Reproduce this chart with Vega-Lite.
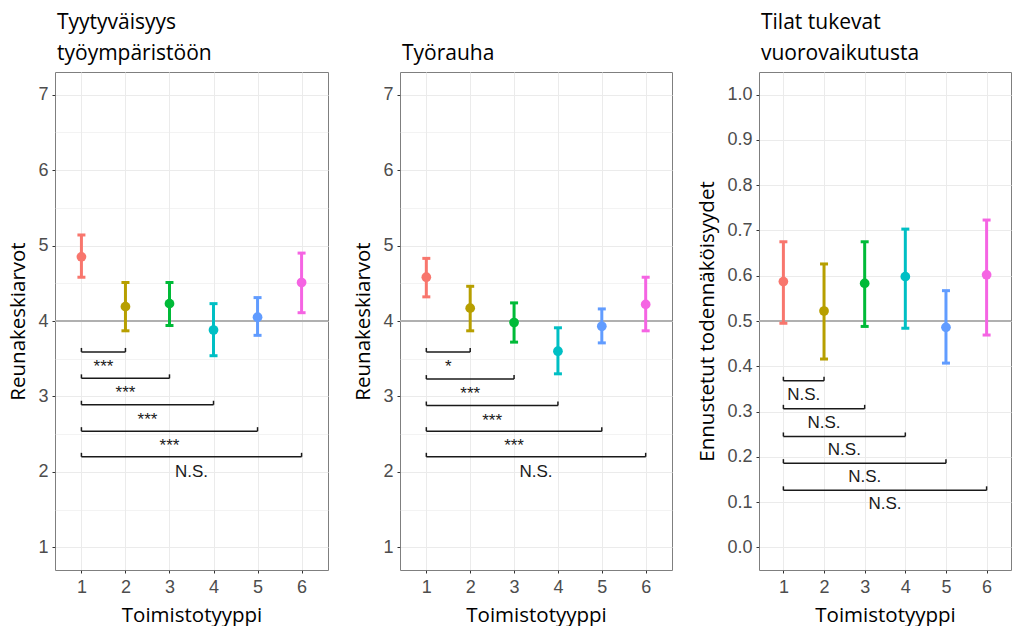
{
  "$schema": "https://vega.github.io/schema/vega-lite/v6.json",
  "background": "white",
  "padding": {"left": 8, "top": 11, "right": 0, "bottom": 0},
  "spacing": 23,
  "resolve": {"scale": {"x": "independent", "y": "independent", "color": "shared"}},
  "config": {
    "view": {"stroke": "#7F7F7F", "strokeWidth": 1},
    "axis": {
      "domain": false,
      "labelFont": "Arial",
      "labelFontSize": 18,
      "labelColor": "#4D4D4D",
      "tickColor": "#333333",
      "tickSize": 3,
      "labelPadding": 4,
      "titleFont": "Open Sans",
      "titleFontSize": 20.5,
      "titleFontWeight": "normal",
      "titleColor": "#000000",
      "gridColor": "#EBEBEB",
      "gridWidth": 1
    },
    "axisX": {"titlePadding": 9, "labelPadding": 5},
    "axisY": {"titlePadding": 9},
    "title": {
      "anchor": "start",
      "frame": "group",
      "font": "Open Sans",
      "fontSize": 21,
      "fontWeight": "normal",
      "color": "#000000",
      "offset": 8,
      "lineHeight": 31,
      "dx": 2
    },
    "text": {"font": "Arial", "fontSize": 17, "color": "#1A1A1A"}
  },
  "datasets": {
    "p1": [
      {"typ": 1, "m": 4.85, "lo": 4.58, "hi": 5.14},
      {"typ": 2, "m": 4.19, "lo": 3.87, "hi": 4.51},
      {"typ": 3, "m": 4.23, "lo": 3.94, "hi": 4.51},
      {"typ": 4, "m": 3.88, "lo": 3.54, "hi": 4.23},
      {"typ": 5, "m": 4.05, "lo": 3.81, "hi": 4.31},
      {"typ": 6, "m": 4.51, "lo": 4.11, "hi": 4.90}
    ],
    "b1": [
      {"x1": 1, "x2": 2, "mid": 1.5, "y": 3.59, "label": "***"},
      {"x1": 1, "x2": 3, "mid": 2.0, "y": 3.24, "label": "***"},
      {"x1": 1, "x2": 4, "mid": 2.5, "y": 2.89, "label": "***"},
      {"x1": 1, "x2": 5, "mid": 3.0, "y": 2.54, "label": "***"},
      {"x1": 1, "x2": 6, "mid": 3.5, "y": 2.20, "label": "N.S."}
    ],
    "p2": [
      {"typ": 1, "m": 4.58, "lo": 4.32, "hi": 4.83},
      {"typ": 2, "m": 4.17, "lo": 3.87, "hi": 4.46},
      {"typ": 3, "m": 3.98, "lo": 3.72, "hi": 4.24},
      {"typ": 4, "m": 3.60, "lo": 3.30, "hi": 3.91},
      {"typ": 5, "m": 3.93, "lo": 3.71, "hi": 4.16},
      {"typ": 6, "m": 4.22, "lo": 3.87, "hi": 4.58}
    ],
    "b2": [
      {"x1": 1, "x2": 2, "mid": 1.5, "y": 3.59, "label": "*"},
      {"x1": 1, "x2": 3, "mid": 2.0, "y": 3.23, "label": "***"},
      {"x1": 1, "x2": 4, "mid": 2.5, "y": 2.88, "label": "***"},
      {"x1": 1, "x2": 5, "mid": 3.0, "y": 2.54, "label": "***"},
      {"x1": 1, "x2": 6, "mid": 3.5, "y": 2.20, "label": "N.S."}
    ],
    "p3": [
      {"typ": 1, "m": 0.587, "lo": 0.495, "hi": 0.675},
      {"typ": 2, "m": 0.522, "lo": 0.416, "hi": 0.626},
      {"typ": 3, "m": 0.583, "lo": 0.488, "hi": 0.675},
      {"typ": 4, "m": 0.598, "lo": 0.484, "hi": 0.703},
      {"typ": 5, "m": 0.486, "lo": 0.407, "hi": 0.567},
      {"typ": 6, "m": 0.602, "lo": 0.469, "hi": 0.723}
    ],
    "b3": [
      {"x1": 1, "x2": 2, "mid": 1.5, "y": 0.368, "label": "N.S."},
      {"x1": 1, "x2": 3, "mid": 2.0, "y": 0.306, "label": "N.S."},
      {"x1": 1, "x2": 4, "mid": 2.5, "y": 0.245, "label": "N.S."},
      {"x1": 1, "x2": 5, "mid": 3.0, "y": 0.186, "label": "N.S."},
      {"x1": 1, "x2": 6, "mid": 3.5, "y": 0.126, "label": "N.S."}
    ]
  },
  "hconcat": [
    {
      "width": 273,
      "height": 498,
      "title": {"text": ["Tyytyväisyys", "työympäristöön"]},
      "layer": [
        {
          "data": {"values": [{"ref": 4}]},
          "mark": {"type": "rule", "color": "#B0B0B0", "strokeWidth": 2},
          "encoding": {
            "y": {"field": "ref", "type": "quantitative", "scale": {"domain": [0.7, 7.3], "nice": false, "zero": false},
              "axis": {"title": "Reunakeskiarvot", "values": [1, 1.5, 2, 2.5, 3, 3.5, 4, 4.5, 5, 5.5, 6, 6.5, 7],
                "format": ".0f",
                "labelExpr": "datum.value % 1 === 0 ? datum.label : ''",
                "gridWidth": {"condition": {"test": "datum.value % 1 !== 0", "value": 0.6}, "value": 1},
                "tickOpacity": {"condition": {"test": "datum.value % 1 !== 0", "value": 0}, "value": 1}}}
          }
        },
        {
          "data": {"name": "p1"},
          "mark": {"type": "rule", "strokeWidth": 3},
          "encoding": {
            "x": {"field": "typ", "type": "quantitative", "scale": {"domain": [0.4, 6.6], "nice": false, "zero": false},
              "axis": {"title": "Toimistotyyppi", "values": [1, 2, 3, 4, 5, 6], "format": "d"}},
            "y": {"field": "lo", "type": "quantitative"},
            "y2": {"field": "hi"},
            "color": {"field": "typ", "type": "nominal", "legend": null,
              "scale": {"domain": [1, 2, 3, 4, 5, 6], "range": ["#F8766D", "#B79F00", "#00BA38", "#00BFC4", "#619CFF", "#F564E3"]}}
          }
        },
        {
          "data": {"name": "p1"},
          "mark": {"type": "tick", "orient": "horizontal", "size": 8, "thickness": 3, "opacity": 1},
          "encoding": {
            "x": {"field": "typ", "type": "quantitative"},
            "y": {"field": "lo", "type": "quantitative"},
            "color": {"field": "typ", "type": "nominal", "legend": null}
          }
        },
        {
          "data": {"name": "p1"},
          "mark": {"type": "tick", "orient": "horizontal", "size": 8, "thickness": 3, "opacity": 1},
          "encoding": {
            "x": {"field": "typ", "type": "quantitative"},
            "y": {"field": "hi", "type": "quantitative"},
            "color": {"field": "typ", "type": "nominal", "legend": null}
          }
        },
        {
          "data": {"name": "p1"},
          "mark": {"type": "circle", "size": 95, "opacity": 1},
          "encoding": {
            "x": {"field": "typ", "type": "quantitative"},
            "y": {"field": "m", "type": "quantitative"},
            "color": {"field": "typ", "type": "nominal", "legend": null}
          }
        },
        {
          "data": {"name": "b1"},
          "mark": {"type": "rule", "color": "#1A1A1A", "strokeWidth": 1.5},
          "encoding": {
            "x": {"field": "x1", "type": "quantitative"},
            "x2": {"field": "x2"},
            "y": {"field": "y", "type": "quantitative"}
          }
        },
        {
          "data": {"name": "b1"},
          "mark": {"type": "tick", "orient": "vertical", "size": 4, "thickness": 1.5, "yOffset": -2, "color": "#1A1A1A", "opacity": 1},
          "encoding": {
            "x": {"field": "x1", "type": "quantitative"},
            "y": {"field": "y", "type": "quantitative"}
          }
        },
        {
          "data": {"name": "b1"},
          "mark": {"type": "tick", "orient": "vertical", "size": 4, "thickness": 1.5, "yOffset": -2, "color": "#1A1A1A", "opacity": 1},
          "encoding": {
            "x": {"field": "x2", "type": "quantitative"},
            "y": {"field": "y", "type": "quantitative"}
          }
        },
        {
          "data": {"name": "b1"},
          "mark": {"type": "text", "baseline": "alphabetic", "dy": 20},
          "encoding": {
            "x": {"field": "mid", "type": "quantitative"},
            "y": {"field": "y", "type": "quantitative"},
            "text": {"field": "label"}
          }
        }
      ]
    },
    {
      "width": 272,
      "height": 498,
      "title": {"text": ["", "Työrauha"]},
      "layer": [
        {
          "data": {"values": [{"ref": 4}]},
          "mark": {"type": "rule", "color": "#B0B0B0", "strokeWidth": 2},
          "encoding": {
            "y": {"field": "ref", "type": "quantitative", "scale": {"domain": [0.7, 7.3], "nice": false, "zero": false},
              "axis": {"title": "Reunakeskiarvot", "values": [1, 1.5, 2, 2.5, 3, 3.5, 4, 4.5, 5, 5.5, 6, 6.5, 7],
                "format": ".0f",
                "labelExpr": "datum.value % 1 === 0 ? datum.label : ''",
                "gridWidth": {"condition": {"test": "datum.value % 1 !== 0", "value": 0.6}, "value": 1},
                "tickOpacity": {"condition": {"test": "datum.value % 1 !== 0", "value": 0}, "value": 1}}}
          }
        },
        {
          "data": {"name": "p2"},
          "mark": {"type": "rule", "strokeWidth": 3},
          "encoding": {
            "x": {"field": "typ", "type": "quantitative", "scale": {"domain": [0.4, 6.6], "nice": false, "zero": false},
              "axis": {"title": "Toimistotyyppi", "values": [1, 2, 3, 4, 5, 6], "format": "d"}},
            "y": {"field": "lo", "type": "quantitative"},
            "y2": {"field": "hi"},
            "color": {"field": "typ", "type": "nominal", "legend": null}
          }
        },
        {
          "data": {"name": "p2"},
          "mark": {"type": "tick", "orient": "horizontal", "size": 8, "thickness": 3, "opacity": 1},
          "encoding": {
            "x": {"field": "typ", "type": "quantitative"},
            "y": {"field": "lo", "type": "quantitative"},
            "color": {"field": "typ", "type": "nominal", "legend": null}
          }
        },
        {
          "data": {"name": "p2"},
          "mark": {"type": "tick", "orient": "horizontal", "size": 8, "thickness": 3, "opacity": 1},
          "encoding": {
            "x": {"field": "typ", "type": "quantitative"},
            "y": {"field": "hi", "type": "quantitative"},
            "color": {"field": "typ", "type": "nominal", "legend": null}
          }
        },
        {
          "data": {"name": "p2"},
          "mark": {"type": "circle", "size": 95, "opacity": 1},
          "encoding": {
            "x": {"field": "typ", "type": "quantitative"},
            "y": {"field": "m", "type": "quantitative"},
            "color": {"field": "typ", "type": "nominal", "legend": null}
          }
        },
        {
          "data": {"name": "b2"},
          "mark": {"type": "rule", "color": "#1A1A1A", "strokeWidth": 1.5},
          "encoding": {
            "x": {"field": "x1", "type": "quantitative"},
            "x2": {"field": "x2"},
            "y": {"field": "y", "type": "quantitative"}
          }
        },
        {
          "data": {"name": "b2"},
          "mark": {"type": "tick", "orient": "vertical", "size": 4, "thickness": 1.5, "yOffset": -2, "color": "#1A1A1A", "opacity": 1},
          "encoding": {
            "x": {"field": "x1", "type": "quantitative"},
            "y": {"field": "y", "type": "quantitative"}
          }
        },
        {
          "data": {"name": "b2"},
          "mark": {"type": "tick", "orient": "vertical", "size": 4, "thickness": 1.5, "yOffset": -2, "color": "#1A1A1A", "opacity": 1},
          "encoding": {
            "x": {"field": "x2", "type": "quantitative"},
            "y": {"field": "y", "type": "quantitative"}
          }
        },
        {
          "data": {"name": "b2"},
          "mark": {"type": "text", "baseline": "alphabetic", "dy": 20},
          "encoding": {
            "x": {"field": "mid", "type": "quantitative"},
            "y": {"field": "y", "type": "quantitative"},
            "text": {"field": "label"}
          }
        }
      ]
    },
    {
      "width": 252,
      "height": 498,
      "title": {"text": ["Tilat tukevat", "vuorovaikutusta"]},
      "layer": [
        {
          "data": {"values": [{"ref": 0.5}]},
          "mark": {"type": "rule", "color": "#B0B0B0", "strokeWidth": 2},
          "encoding": {
            "y": {"field": "ref", "type": "quantitative", "scale": {"domain": [-0.05, 1.05], "nice": false, "zero": false},
              "axis": {"title": "Ennustetut todennäköisyydet",
                "values": [0, 0.05, 0.1, 0.15, 0.2, 0.25, 0.3, 0.35, 0.4, 0.45, 0.5, 0.55, 0.6, 0.65, 0.7, 0.75, 0.8, 0.85, 0.9, 0.95, 1.0],
                "format": ".1f",
                "labelExpr": "round(datum.value * 20) % 2 === 0 ? datum.label : ''",
                "gridWidth": {"condition": {"test": "round(datum.value * 20) % 2 === 1", "value": 0.6}, "value": 1},
                "tickOpacity": {"condition": {"test": "round(datum.value * 20) % 2 === 1", "value": 0}, "value": 1}}}
          }
        },
        {
          "data": {"name": "p3"},
          "mark": {"type": "rule", "strokeWidth": 3},
          "encoding": {
            "x": {"field": "typ", "type": "quantitative", "scale": {"domain": [0.4, 6.6], "nice": false, "zero": false},
              "axis": {"title": "Toimistotyyppi", "values": [1, 2, 3, 4, 5, 6], "format": "d"}},
            "y": {"field": "lo", "type": "quantitative"},
            "y2": {"field": "hi"},
            "color": {"field": "typ", "type": "nominal", "legend": null}
          }
        },
        {
          "data": {"name": "p3"},
          "mark": {"type": "tick", "orient": "horizontal", "size": 8, "thickness": 3, "opacity": 1},
          "encoding": {
            "x": {"field": "typ", "type": "quantitative"},
            "y": {"field": "lo", "type": "quantitative"},
            "color": {"field": "typ", "type": "nominal", "legend": null}
          }
        },
        {
          "data": {"name": "p3"},
          "mark": {"type": "tick", "orient": "horizontal", "size": 8, "thickness": 3, "opacity": 1},
          "encoding": {
            "x": {"field": "typ", "type": "quantitative"},
            "y": {"field": "hi", "type": "quantitative"},
            "color": {"field": "typ", "type": "nominal", "legend": null}
          }
        },
        {
          "data": {"name": "p3"},
          "mark": {"type": "circle", "size": 95, "opacity": 1},
          "encoding": {
            "x": {"field": "typ", "type": "quantitative"},
            "y": {"field": "m", "type": "quantitative"},
            "color": {"field": "typ", "type": "nominal", "legend": null}
          }
        },
        {
          "data": {"name": "b3"},
          "mark": {"type": "rule", "color": "#1A1A1A", "strokeWidth": 1.5},
          "encoding": {
            "x": {"field": "x1", "type": "quantitative"},
            "x2": {"field": "x2"},
            "y": {"field": "y", "type": "quantitative"}
          }
        },
        {
          "data": {"name": "b3"},
          "mark": {"type": "tick", "orient": "vertical", "size": 4, "thickness": 1.5, "yOffset": -2, "color": "#1A1A1A", "opacity": 1},
          "encoding": {
            "x": {"field": "x1", "type": "quantitative"},
            "y": {"field": "y", "type": "quantitative"}
          }
        },
        {
          "data": {"name": "b3"},
          "mark": {"type": "tick", "orient": "vertical", "size": 4, "thickness": 1.5, "yOffset": -2, "color": "#1A1A1A", "opacity": 1},
          "encoding": {
            "x": {"field": "x2", "type": "quantitative"},
            "y": {"field": "y", "type": "quantitative"}
          }
        },
        {
          "data": {"name": "b3"},
          "mark": {"type": "text", "baseline": "alphabetic", "dy": 19},
          "encoding": {
            "x": {"field": "mid", "type": "quantitative"},
            "y": {"field": "y", "type": "quantitative"},
            "text": {"field": "label"}
          }
        }
      ]
    }
  ]
}
